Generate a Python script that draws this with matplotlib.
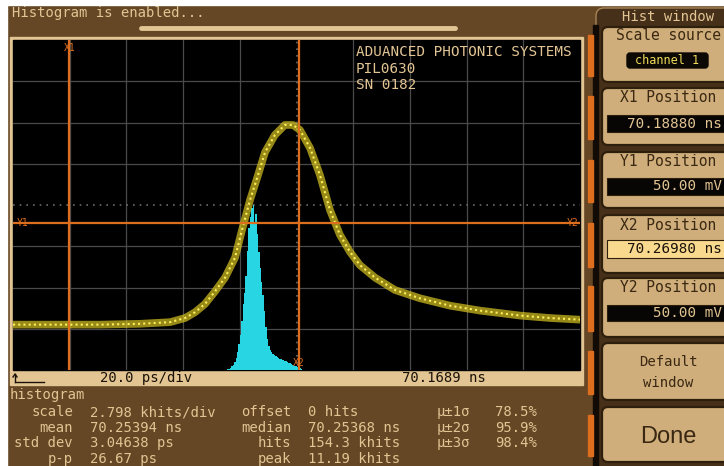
import numpy as np
import matplotlib.pyplot as plt
from matplotlib.patches import Rectangle, FancyBboxPatch

# ---- scope settings ----
origin_ns = 70.1689      # left edge of the time base
ps_per_div = 20.0
n_xdiv = 10
mv_per_div = 50.0
center_mv = 72.0
n_ydiv = 8
khits_per_div = 2.798
hist_offset_khits = 0.0

x1_ns = 70.18880
x2_ns = 70.26980
y1_mv = 50.00
y2_mv = 50.00

# averaged pulse trace (time after origin in ps, amplitude in mV)
wave_t_ps = [0, 16.6, 30.7, 44.8, 55.4, 60.7, 64.2, 67.7, 71.2, 74.8, 78.3, 80.8,
             83.6, 86.4, 88.9, 92.4, 95.9, 98.8, 101.2, 104.8, 108.3, 111.8, 115.3,
             118.9, 122.4, 127.7, 134.7, 143.5, 154.1, 164.7, 178.8, 189.4, 200]
wave_mv = [-73, -73, -73, -72, -70, -65, -58, -48, -33, -16, 8, 42,
           78, 108, 136, 157, 169, 169, 163, 141, 108, 66, 36,
           15, -1, -16, -31, -41, -50, -56, -62, -65, -67]

# timing histogram, 0.5 ps bins starting at 75.5 ps
hist_start_ps = 75.5
hist_bin_ps = 0.5
hist_khits = [0.05, 0.10, 0.15, 0.25, 0.35, 0.55, 0.80, 1.20, 1.75, 2.40,
              3.30, 4.50, 5.20, 6.40, 8.10, 9.60, 10.40, 11.00, 11.19, 9.90,
              10.60, 9.20, 8.00, 6.90, 6.00, 5.10, 4.00, 2.90, 2.10, 1.60,
              1.35, 1.20, 1.10, 1.00, 0.95, 0.88, 0.80, 0.75, 0.72, 0.68,
              0.62, 0.58, 0.55, 0.50, 0.46, 0.42, 0.36, 0.30, 0.26, 0.22,
              0.18, 0.12, 0.06]

stat_rows = [
    ("scale", "2.798 khits/div", "offset", "0 hits", "\u03bc\u00b11\u03c3", "78.5%"),
    ("mean", "70.25394 ns", "median", "70.25368 ns", "\u03bc\u00b12\u03c3", "95.9%"),
    ("std dev", "3.04638 ps", "hits", "154.3 khits", "\u03bc\u00b13\u03c3", "98.4%"),
    ("p-p", "26.67 ps", "peak", "11.19 khits", "", ""),
]

BROWN = "#654625"
DARK = "#46301a"
TAN = "#e2c593"
BTN = "#cfae7c"
ORANGE = "#dc6e1e"
YELLOW = "#e8d52a"
CYAN = "#27d6e2"
MONO = "DejaVu Sans Mono"

W, H = 724, 466
fig = plt.figure(figsize=(7.24, 4.66), dpi=100)
fig.patch.set_facecolor(BROWN)

bg = fig.add_axes([0, 0, 1, 1])
bg.set_xlim(0, W)
bg.set_ylim(H, 0)
bg.axis("off")


def px_box(x0, y0, x1, y1):
    return [x0 / W, 1 - y1 / H, (x1 - x0) / W, (y1 - y0) / H]


# frame around the display
bg.add_patch(Rectangle((0, 0), W, 5, color="white"))
bg.add_patch(Rectangle((0, 0), 7, H, color="white"))
bg.text(12, 13, "Histogram is enabled...", color=TAN, family=MONO, fontsize=10,
        va="center", ha="left")
bg.plot([141, 455], [28, 28], color=TAN, lw=3.5, solid_capstyle="round")
bg.add_patch(Rectangle((10, 37), 573, 348, color=TAN))
bg.add_patch(Rectangle((13, 40), 567, 330, color="black"))

# bottom time-base bar
bg.plot([15, 15], [374, 382], color="#1a1208", lw=1)
bg.plot([13, 15, 17], [377, 374, 377], color="#1a1208", lw=1)
bg.plot([15, 44], [382, 382], color="#1a1208", lw=1)
bg.text(100, 378, f"{ps_per_div:.1f} ps/div", color="#1a1208", family=MONO,
        fontsize=10, va="center")
bg.text(402, 378, f"{origin_ns:.4f} ns", color="#1a1208", family=MONO,
        fontsize=10, va="center")

# statistics block
bg.text(10, 395, "histogram", color=TAN, family=MONO, fontsize=10, va="center")
for i, (l1, v1, l2, v2, l3, v3) in enumerate(stat_rows):
    y = 412 + i * 15.7
    bg.text(73, y, l1, color=TAN, family=MONO, fontsize=10, va="center", ha="right")
    bg.text(90, y, v1, color=TAN, family=MONO, fontsize=10, va="center")
    bg.text(291, y, l2, color=TAN, family=MONO, fontsize=10, va="center", ha="right")
    bg.text(308, y, v2, color=TAN, family=MONO, fontsize=10, va="center")
    bg.text(437, y, l3, color=TAN, family=MONO, fontsize=10, va="center")
    bg.text(495, y, v3, color=TAN, family=MONO, fontsize=10, va="center")

# right-hand soft-key panel
bg.add_patch(FancyBboxPatch((596, 8), 150, 470, boxstyle="round,pad=0,rounding_size=8",
                            facecolor=DARK, edgecolor="#a88658", lw=1))
bg.add_patch(Rectangle((593, 25), 5, H, color="#120a04"))
bg.text(668, 17, "Hist window", color=TAN, family=MONO, fontsize=10,
        va="center", ha="center")

buttons = [(27, 82), (88, 145), (152, 208), (215, 273), (278, 337), (343, 400), (407, 462)]
for top, bot in buttons:
    bg.add_patch(FancyBboxPatch((602, top), 140, bot - top,
                                boxstyle="round,pad=0,rounding_size=6",
                                facecolor=BTN, edgecolor="#2e1e0c", lw=1.6))
    bg.add_patch(Rectangle((588, top + 8), 5, bot - top - 14, color=ORANGE))

BTXT = "#3a2812"
bg.text(668, 35, "Scale source", color=BTXT, family=MONO, fontsize=10.5, va="center", ha="center")
bg.add_patch(FancyBboxPatch((627, 53), 81, 15, boxstyle="round,pad=0,rounding_size=3",
                            facecolor="#0c0804", edgecolor="#0c0804"))
bg.text(667, 60.5, "channel 1", color="#eedc5a", family=MONO, fontsize=8.5,
        va="center", ha="center")

value_boxes = [
    (98, "X1 Position", 115, 132, f"{x1_ns:.5f} ns", False),
    (162, "Y1 Position", 178, 195, f"{y1_mv:.2f} mV", False),
    (225, "X2 Position", 240, 258, f"{x2_ns:.5f} ns", True),
    (288, "Y2 Position", 305, 321, f"{y2_mv:.2f} mV", False),
]
for ty, label, b0, b1, val, active in value_boxes:
    bg.text(668, ty, label, color=BTXT, family=MONO, fontsize=10.5, va="center", ha="center")
    face = "#f9d98e" if active else "#080604"
    fg = "#1a1208" if active else TAN
    bg.add_patch(Rectangle((607, b0), 130, b1 - b0, facecolor=face, edgecolor="#2e1e0c", lw=0.8))
    bg.text(722, (b0 + b1) / 2, val, color=fg, family=MONO, fontsize=10.3,
            va="center", ha="right")

bg.text(668, 362, "Default", color=BTXT, family=MONO, fontsize=10, va="center", ha="center")
bg.text(668, 383, "window", color=BTXT, family=MONO, fontsize=10, va="center", ha="center")
bg.text(668, 437, "Done", color=BTXT, family="Liberation Sans", fontsize=17,
        va="center", ha="center")

# ---- scope display ----
ax = fig.add_axes(px_box(13, 40, 580, 370))
ax.set_facecolor("black")
t_span = ps_per_div * n_xdiv
ax.set_xlim(0, t_span)
ax.set_ylim(hist_offset_khits, hist_offset_khits + khits_per_div * n_ydiv)
ax.set_xticks([k * ps_per_div for k in range(1, n_xdiv) if k != n_xdiv // 2])
ax.set_yticks([hist_offset_khits + k * khits_per_div for k in range(1, n_ydiv) if k != n_ydiv // 2])
ax.grid(True, color="#4a4a4a", lw=0.9)
ax.axhline(hist_offset_khits + khits_per_div * n_ydiv / 2, color="#6a6a6a", lw=1.2, ls=(0, (1, 3)))
ax.axvline(t_span / 2, color="#6a6a6a", lw=1.2, ls=(0, (1, 3)))
ax.tick_params(length=0, labelbottom=False, labelleft=False)
for s in ax.spines.values():
    s.set_visible(False)

bin_left = hist_start_ps + hist_bin_ps * np.arange(len(hist_khits))
ax.bar(bin_left, hist_khits, width=hist_bin_ps, align="edge", color=CYAN,
       edgecolor="none", zorder=3)

# waveform and cursors on the voltage scale
aw = ax.twinx()
aw.set_ylim(center_mv - mv_per_div * n_ydiv / 2, center_mv + mv_per_div * n_ydiv / 2)
aw.set_xlim(0, t_span)
aw.axis("off")
aw.plot(wave_t_ps, wave_mv, color="#d9c522", lw=5.5, alpha=0.7, solid_joinstyle="round")
aw.plot(wave_t_ps, wave_mv, color="#fff05a", lw=1.5, ls=(0, (1, 1.5)))

x1_ps = (x1_ns - origin_ns) * 1000
x2_ps = (x2_ns - origin_ns) * 1000
for xp in (x1_ps, x2_ps):
    aw.axvline(xp, color=ORANGE, lw=1.6, zorder=5)
aw.axhline(y1_mv, color=ORANGE, lw=1.6, zorder=5)
ytop = center_mv + mv_per_div * n_ydiv / 2
ybot = center_mv - mv_per_div * n_ydiv / 2
aw.text(x1_ps, ytop - 4, "X1", color=ORANGE, family=MONO, fontsize=7, ha="center", va="top", zorder=6)
aw.text(x2_ps, ybot + 3, "X2", color=ORANGE, family=MONO, fontsize=7, ha="center", va="bottom", zorder=6)
aw.text(1.5, y1_mv, "Y1", color=ORANGE, family=MONO, fontsize=7, ha="left", va="center", zorder=6)
aw.text(t_span - 0.5, y2_mv, "Y2", color=ORANGE, family=MONO, fontsize=7, ha="right", va="center", zorder=6)

aw.text(121, ytop - 6, "ADUANCED PHOTONIC SYSTEMS\nPIL0630\nSN 0182", color=TAN,
        family=MONO, fontsize=10.3, ha="left", va="top", linespacing=1.25)

fig.savefig("out.png", dpi=100, facecolor=fig.get_facecolor())
